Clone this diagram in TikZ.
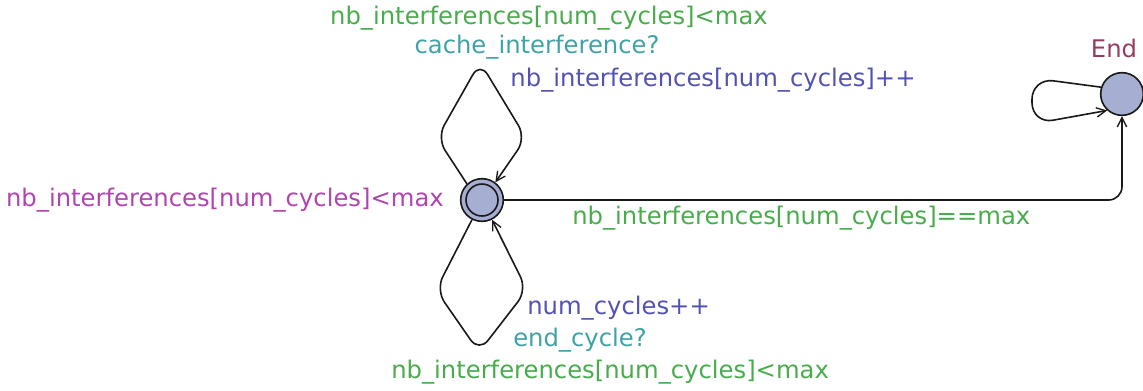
\documentclass[tikz,border=0pt]{standalone}
\usepackage{fontspec}
\setmainfont{DejaVu Sans}
\usetikzlibrary{arrows.meta}
\definecolor{gGreen}{RGB}{72,172,76}
\definecolor{gTeal}{RGB}{64,162,168}
\definecolor{gBlue}{RGB}{82,82,178}
\definecolor{gMag}{RGB}{176,68,176}
\definecolor{gMaroon}{RGB}{150,60,96}
\definecolor{gFill}{RGB}{166,174,210}
\tikzset{
  loc/.style={circle,draw=black!90,line width=1.2pt,fill=gFill,minimum size=32pt,inner sep=0pt},
  edgearrow/.style={draw=black!90,line width=1.2pt,-{Straight Barb[length=7pt,width=7pt,line width=1pt]}},
  lbl/.style={font=\fontsize{18.2}{20}\selectfont,inner sep=0pt},
  guardlbl/.style={lbl,text=gGreen},
  synclbl/.style={lbl,text=gTeal},
  updlbl/.style={lbl,text=gBlue},
  invlbl/.style={lbl,text=gMag},
  loclbl/.style={lbl,text=gMaroon}}
\begin{document}
\begin{tikzpicture}[x=0.75pt,y=-0.75pt]
\useasboundingbox (0,0) rectangle (1143,390);
% locations
\node[loc] (main) at (482,200) {};
\node[circle,draw=black!90,line width=1.2pt,minimum size=24pt,inner sep=0pt] (maininner) at (main.center) {};
\node[loc] (End) at (1122,94) {};
\node[loclbl] (endname) at (1114,48) {End};
% invariant
\node[invlbl,anchor=east] (invl) at (444,200) {nb\_interferences[num\_cycles]<max};
% top self loop
\draw[edgearrow,rounded corners=11pt] (main.133) -- (437,138) -- (480,62) -- (526,138) -- (main.53);
\node[guardlbl] (g1) at (549,18) {nb\_interferences[num\_cycles]<max};
\node[synclbl] (s1) at (537,47) {cache\_interference?};
\node[updlbl] (u1) at (713,80) {nb\_interferences[num\_cycles]++};
% bottom self loop
\draw[edgearrow,rounded corners=11pt] (main.-117) -- (436,290) -- (479,352) -- (527,290) -- (main.-63);
\node[updlbl,anchor=west] (u2) at (527,308) {num\_cycles++};
\node[synclbl,anchor=west] (s2) at (513,340) {end\_cycle?};
\node[guardlbl,anchor=west] (g3) at (391,372) {nb\_interferences[num\_cycles]<max};
% main -> End
\draw[edgearrow,rounded corners=10pt] (main.east) -| (End.south);
\node[guardlbl,anchor=west] (g2) at (572,218) {nb\_interferences[num\_cycles]==max};
% End self loop
\draw[edgearrow,rounded corners=16pt] (End.162) -- (1032,78) -- (1032,124) -- (End.228);
\end{tikzpicture}
\end{document}
